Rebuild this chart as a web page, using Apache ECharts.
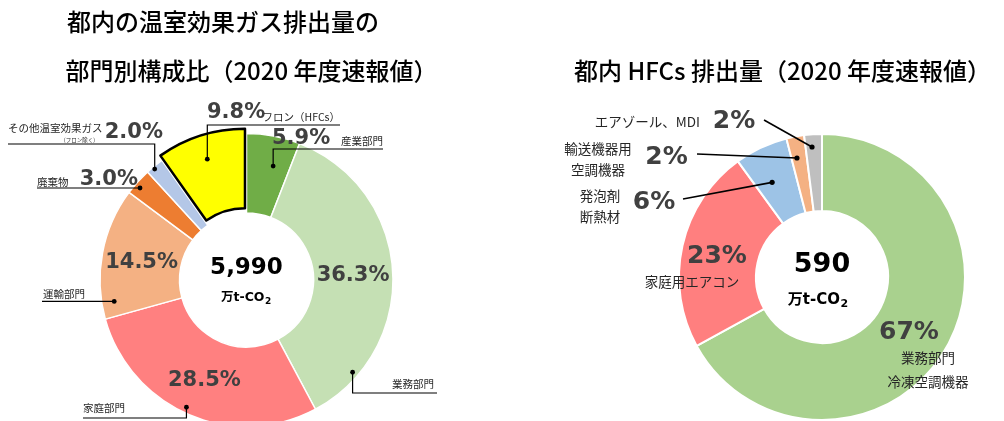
<!DOCTYPE html>
<html>
<head>
<meta charset="utf-8">
<script src="https://cdn.jsdelivr.net/npm/echarts@6/dist/echarts.min.js"></script>
<style>
  html, body { margin: 0; padding: 0; background: #ffffff; }
  #chart { width: 1004px; height: 421px; }
</style>
</head>
<body>
<div id="chart"></div>
<script>
// 都内の温室効果ガス排出量の部門別構成比（%）
const sectorNames = ['産業部門', '業務部門', '家庭部門', '運輸部門', '廃棄物', 'その他温室効果ガス', 'フロン（HFCs）'];
const sectorShares = [5.9, 36.3, 28.5, 14.5, 3.0, 2.0, 9.8];
const sectorTotal = '5,990';
const highlightedSector = 'フロン（HFCs）';

// 都内 HFCs 排出量の内訳（%）
const hfcNames = ['業務部門\n冷凍空調機器', '家庭用エアコン', '発泡剤\n断熱材', '輸送機器用\n空調機器', 'エアゾール、MDI'];
const hfcShares = [67, 23, 6, 2, 2];
const hfcTotal = '590';

const unitMain = '万t-CO';
const unitSub = '2';
const titleLeft = ['都内の温室効果ガス排出量の', '部門別構成比（2020 年度速報値）'];
const titleRight = '都内 HFCs 排出量（2020 年度速報値）';

// colours
const sectorColors = ['#70AD47', '#C5E0B4', '#FF8080', '#F4B183', '#ED7D31', '#B4C7E7', '#FFFF00'];
const hfcColors = ['#A9D18E', '#FF7F7F', '#9DC3E6', '#F4B183', '#BFBFBF'];

// donut geometry
const leftPie = { cx: 246.5, cy: 280, r0: 67, r: 146.5, offset: 5 };
const rightPie = { cx: 822, cy: 277, r0: 66, r: 143, offset: 0 };

// annotation layout: dot = [fraction of slice angle, radius], lineY/endX = underline
const sectorLabelLayout = [
  { dot: [0.62, 117], lineY: 149, endX: 383, pct: [272, 139, 'left'], name: [383, 141, 'right'] },
  { dot: [0.84, 140.6], lineY: 393, endX: 437, pct: 'mid', name: [392, 384, 'left'] },
  { dot: [0.52, 140.7], lineY: 418, endX: 83, pct: 'mid', name: [83, 408, 'left'] },
  { dot: [0.12, 134], lineY: null, endX: 42, pct: 'mid', name: [43, 294.5, 'left'] },
  { dot: [0.38, 140.7], lineY: null, endX: 37, pct: [138, 180, 'right'], name: [37, 182, 'left'] },
  { dot: [0.40, 144], lineY: 144, endX: 8, pct: [163, 132.5, 'right'], name: [8, 128, 'left'],
    note: ['(フロン除く)', 95, 139.5, 'right'] },
  { dot: [0.49, 122], lineY: 125, endX: 340, pct: [207, 113, 'left'], name: [340, 117, 'right'] }
];
const hfcLabelLayout = [
  { pct: [909, 332, 'center'], name: [928, 358, 'center'], gap: 24 },
  { pct: [717, 256, 'center'], name: [692, 282, 'center'], gap: 0 },
  { dot: [0.38, 107], from: [683, 199], pct: [654, 202, 'center'], name: [600, 196, 'center'], gap: 21 },
  { dot: [0.35, 121.6], from: [697, 154], pct: [666.5, 157.5, 'center'], name: [598, 149, 'center'], gap: 21 },
  { dot: [0.39, 130.4], from: [764, 120], pct: [734, 121, 'center'], name: [700, 121.5, 'right'], gap: 0 }
];

const pctFontLeft = 'bold 21px "DejaVu Sans", Verdana, sans-serif';
const pctFontRight = 'bold 25px "DejaVu Sans", Verdana, sans-serif';
const nameFontLeft = '10.5px "Noto Sans CJK JP", sans-serif';
const nameFontRight = '13.5px "Noto Sans CJK JP", sans-serif';
const textGray = '#404040';

function sliceAngles(values, i) {
  const total = values.reduce((a, b) => a + b, 0);
  const before = values.slice(0, i).reduce((a, b) => a + b, 0);
  return { start: before / total * 360, span: values[i] / total * 360 };
}

function polar(geo, deg, r) {
  const a = deg * Math.PI / 180;
  return [geo.cx + r * Math.sin(a), geo.cy - r * Math.cos(a)];
}

function textEl(text, x, y, font, fill, align) {
  return {
    type: 'text',
    x: x, y: y,
    style: { text: text, font: font, fill: fill, textAlign: align, textVerticalAlign: 'middle' }
  };
}

// "万t-CO" followed by a lowered, smaller "2"
function unitEls(splitX, y, size) {
  const font = 'bold ' + size + 'px "DejaVu Sans", "Noto Sans CJK JP", sans-serif';
  const subFont = 'bold ' + Math.round(size * 0.7) + 'px "DejaVu Sans", sans-serif';
  return [
    textEl(unitMain, splitX, y, font, '#000000', 'right'),
    textEl(unitSub, splitX + 0.5, y + size * 0.28, subFont, '#000000', 'left')
  ];
}

function pieSeries(values, names, colors, geo, borderWidth, highlighted) {
  return {
    type: 'pie',
    center: [geo.cx, geo.cy],
    radius: [geo.r0, geo.r],
    startAngle: 90,
    clockwise: true,
    animation: false,
    selectedMode: 'single',
    selectedOffset: geo.offset,
    label: { show: false },
    labelLine: { show: false },
    emphasis: { disabled: true },
    itemStyle: { borderColor: '#ffffff', borderWidth: borderWidth },
    data: values.map((v, i) => {
      const hl = names[i] === highlighted;
      const style = hl
        ? { color: colors[i], borderColor: '#000000', borderWidth: 2.5 }
        : { color: colors[i] };
      return { value: v, name: names[i], selected: hl, itemStyle: style, select: { itemStyle: style } };
    })
  };
}

// leader lines, dots, percentages and category names of the left donut
function sectorAnnotations() {
  return {
    type: 'custom',
    coordinateSystem: 'none',
    silent: true,
    animation: false,
    z: 10,
    data: sectorShares.map((v, i) => [i, v]),
    renderItem: function (params) {
      const i = params.dataIndex;
      const lay = sectorLabelLayout[i];
      const ang = sliceAngles(sectorShares, i);
      const children = [];
      let dot = polar(leftPie, ang.start + lay.dot[0] * ang.span, lay.dot[1]);
      if (sectorNames[i] === highlightedSector) {
        const mid = polar({ cx: 0, cy: 0 }, ang.start + ang.span / 2, leftPie.offset);
        dot = [dot[0] + mid[0], dot[1] + mid[1]];
      }
      const lineY = lay.lineY == null ? dot[1] : lay.lineY;
      children.push({
        type: 'polyline',
        shape: { points: [dot, [dot[0], lineY], [lay.endX, lineY]] },
        style: { stroke: '#000000', lineWidth: 1.2, fill: null }
      });
      children.push({ type: 'circle', shape: { cx: dot[0], cy: dot[1], r: 2.4 }, style: { fill: '#000000' } });

      const pctText = sectorShares[i].toFixed(1) + '%';
      if (lay.pct === 'mid') {
        const p = polar(leftPie, ang.start + ang.span / 2, (leftPie.r0 + leftPie.r) / 2);
        children.push(textEl(pctText, p[0], p[1] + 2, pctFontLeft, textGray, 'center'));
      } else {
        children.push(textEl(pctText, lay.pct[0], lay.pct[1], pctFontLeft, textGray, lay.pct[2]));
      }
      children.push(textEl(sectorNames[i], lay.name[0], lay.name[1], nameFontLeft, '#262626', lay.name[2]));
      if (lay.note) {
        children.push(textEl(lay.note[0], lay.note[1], lay.note[2], '5.5px "Noto Sans CJK JP", sans-serif', '#262626', lay.note[3]));
      }
      return { type: 'group', children: children };
    }
  };
}

// leader lines, dots, percentages and category names of the right donut
function hfcAnnotations() {
  return {
    type: 'custom',
    coordinateSystem: 'none',
    silent: true,
    animation: false,
    z: 10,
    data: hfcShares.map((v, i) => [i, v]),
    renderItem: function (params) {
      const i = params.dataIndex;
      const lay = hfcLabelLayout[i];
      const children = [];
      if (lay.dot) {
        const ang = sliceAngles(hfcShares, i);
        const dot = polar(rightPie, ang.start + lay.dot[0] * ang.span, lay.dot[1]);
        children.push({
          type: 'polyline',
          shape: { points: [lay.from, dot] },
          style: { stroke: '#000000', lineWidth: 1.6, fill: null }
        });
        children.push({ type: 'circle', shape: { cx: dot[0], cy: dot[1], r: 2.6 }, style: { fill: '#000000' } });
      }
      children.push(textEl(hfcShares[i] + '%', lay.pct[0], lay.pct[1], pctFontRight, textGray, lay.pct[2]));
      hfcNames[i].split('\n').forEach((line, k) => {
        children.push(textEl(line, lay.name[0], lay.name[1] + k * lay.gap, nameFontRight, '#262626', lay.name[2]));
      });
      return { type: 'group', children: children };
    }
  };
}

const chart = echarts.init(document.getElementById('chart'), null, { renderer: 'canvas' });

const titleFont = '500 24px "Noto Sans CJK JP", sans-serif';
chart.setOption({
  animation: false,
  backgroundColor: '#ffffff',
  graphic: [
    textEl(titleLeft[0], 223, 22, titleFont, '#000000', 'center'),
    textEl(titleLeft[1], 251.5, 71, titleFont, '#000000', 'center'),
    textEl(titleRight, 782.5, 71, titleFont, '#000000', 'center'),
    textEl(sectorTotal, leftPie.cx, 268, 'bold 23px "DejaVu Sans", Verdana, sans-serif', '#000000', 'center'),
    textEl(hfcTotal, rightPie.cx, 265, 'bold 27px "DejaVu Sans", Verdana, sans-serif', '#000000', 'center')
  ].concat(unitEls(leftPie.cx + 18, 298, 12.5), unitEls(rightPie.cx + 18, 300, 15)),
  series: [
    pieSeries(sectorShares, sectorNames, sectorColors, leftPie, 1.5, highlightedSector),
    pieSeries(hfcShares, hfcNames, hfcColors, rightPie, 2, null),
    sectorAnnotations(),
    hfcAnnotations()
  ]
});
</script>
</body>
</html>
